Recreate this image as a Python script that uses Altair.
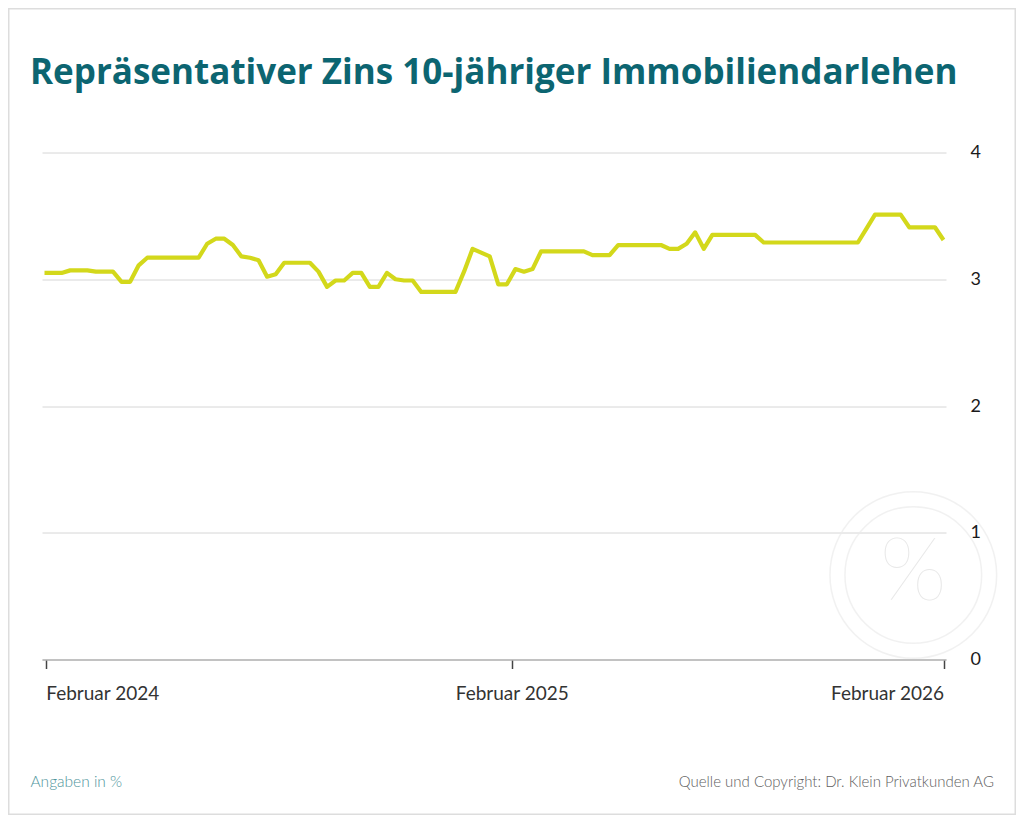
import altair as alt
import pandas as pd

# ---------------- data ----------------
title_text = "Repräsentativer Zins 10-jähriger Immobiliendarlehen"
note_left = "Angaben in %"
note_right = "Quelle und Copyright: Dr. Klein Privatkunden AG"
watermark_text = "%"

start_date = "2024-02-01"          # first weekly observation
rates = [
    3.05, 3.05, 3.05, 3.07, 3.07, 3.07, 3.06, 3.06, 3.06, 2.98,
    2.98, 3.11, 3.17, 3.17, 3.17, 3.17, 3.17, 3.17, 3.17, 3.28,
    3.32, 3.32, 3.27, 3.18, 3.17, 3.15, 3.02, 3.04, 3.13, 3.13,
    3.13, 3.13, 3.06, 2.94, 2.99, 2.99, 3.05, 3.05, 2.94, 2.94,
    3.05, 3.00, 2.99, 2.99, 2.90, 2.90, 2.90, 2.90, 2.90, 3.06,
    3.24, 3.21, 3.18, 2.96, 2.96, 3.08, 3.06, 3.08, 3.22, 3.22,
    3.22, 3.22, 3.22, 3.22, 3.19, 3.19, 3.19, 3.27, 3.27, 3.27,
    3.27, 3.27, 3.27, 3.24, 3.24, 3.28, 3.37, 3.24, 3.35, 3.35,
    3.35, 3.35, 3.35, 3.35, 3.29, 3.29, 3.29, 3.29, 3.29, 3.29,
    3.29, 3.29, 3.29, 3.29, 3.29, 3.29, 3.40, 3.51, 3.51, 3.51,
    3.51, 3.41, 3.41, 3.41, 3.41, 3.31,
]
x_tick_dates = [(2024, 2, 2), (2025, 2, 17), (2026, 2, 5)]
y_ticks = [0, 1, 2, 3, 4]

dates = pd.date_range(start_date, periods=len(rates), freq="7D").strftime("%Y-%m-%d")
df = pd.DataFrame({"date": dates, "rate": rates})

# ---------------- styles ----------------
TEAL = "#0c6571"
LINE = "#d3d81b"
FONT = "Lato"

line = alt.Chart(df).mark_line(
    color=LINE, strokeWidth=4.2, strokeJoin="round"
).encode(
    x=alt.X(
        "date:T",
        scale=alt.Scale(nice=False, padding=2.5),
        axis=alt.Axis(
            values=[alt.DateTime(year=y, month=m, date=d, utc=True) for y, m, d in x_tick_dates],
            format="Februar %Y",
            labelFlush=12,
            grid=False,
            domain=True,
            domainColor="#b5b5b5",
            domainWidth=1.5,
            ticks=True,
            tickColor="#444444",
            tickSize=9,
            tickWidth=1.5,
            labelFont=FONT,
            labelFontSize=19,
            labelColor="#333333",
            labelPadding=16,
            title=None,
        ),
    ),
    y=alt.Y(
        "rate:Q",
        scale=alt.Scale(domain=[0, 4], nice=False, zero=True),
        axis=alt.Axis(
            orient="right",
            values=y_ticks,
            grid=True,
            gridColor="#d6d6d6",
            gridWidth=1,
            domain=False,
            ticks=False,
            tickSize=0,
            labelFont=FONT,
            labelFontSize=18,
            labelColor="#1a1a1a",
            labelPadding=24,
            labelAlign="left",
            title=None,
        ),
    ),
)

one = pd.DataFrame({"t": [title_text], "l": [note_left], "r": [note_right], "w": [watermark_text]})

circle_outer = alt.Chart(one).mark_point(
    shape="circle", filled=False, stroke="#ececec", strokeWidth=1.5
).encode(x=alt.value(871.3), y=alt.value(422.5), size=alt.value(27789))
circle_inner = alt.Chart(one).mark_point(
    shape="circle", filled=False, stroke="#ececec", strokeWidth=1.5
).encode(x=alt.value(871.3), y=alt.value(422.5), size=alt.value(18687))
wm = alt.Chart(one).mark_text(
    font=FONT, fontWeight=100, fontSize=88, color="#e8e8e8",
    align="center", baseline="middle"
).encode(x=alt.value(871.3), y=alt.value(421), text="w:N")

title = alt.Chart(one).mark_text(
    font="Open Sans", fontWeight="bold", fontSize=35, color=TEAL,
    align="left", baseline="alphabetic"
).encode(x=alt.value(-12), y=alt.value(-69), text="t:N")

left_note = alt.Chart(one).mark_text(
    font=FONT, fontWeight=300, fontSize=15.5, color="#4f959c",
    align="left", baseline="alphabetic"
).encode(x=alt.value(-11.5), y=alt.value(634), text="l:N")

right_note = alt.Chart(one).mark_text(
    font=FONT, fontWeight=300, fontSize=15, color="#5e5e5e",
    align="right", baseline="alphabetic"
).encode(x=alt.value(952), y=alt.value(634), text="r:N")

border = alt.Chart(one).mark_rect(
    fillOpacity=0, stroke="#dddddd", strokeWidth=1.5
).encode(
    x=alt.value(-33.25), x2=alt.value(973.25),
    y=alt.value(-143.75), y2=alt.value(661.75),
)

chart = alt.layer(
    circle_outer, circle_inner, wm, line, title, left_note, right_note, border
).properties(
    width=904,
    height=507,
    autosize=alt.AutoSizeParams(type="none"),
    padding={"left": 34, "top": 144.5, "right": 70, "bottom": 155.5},
    background="white",
).configure_view(stroke=None)

chart.save("out.html", embed_options={"renderer": "svg", "actions": False})
